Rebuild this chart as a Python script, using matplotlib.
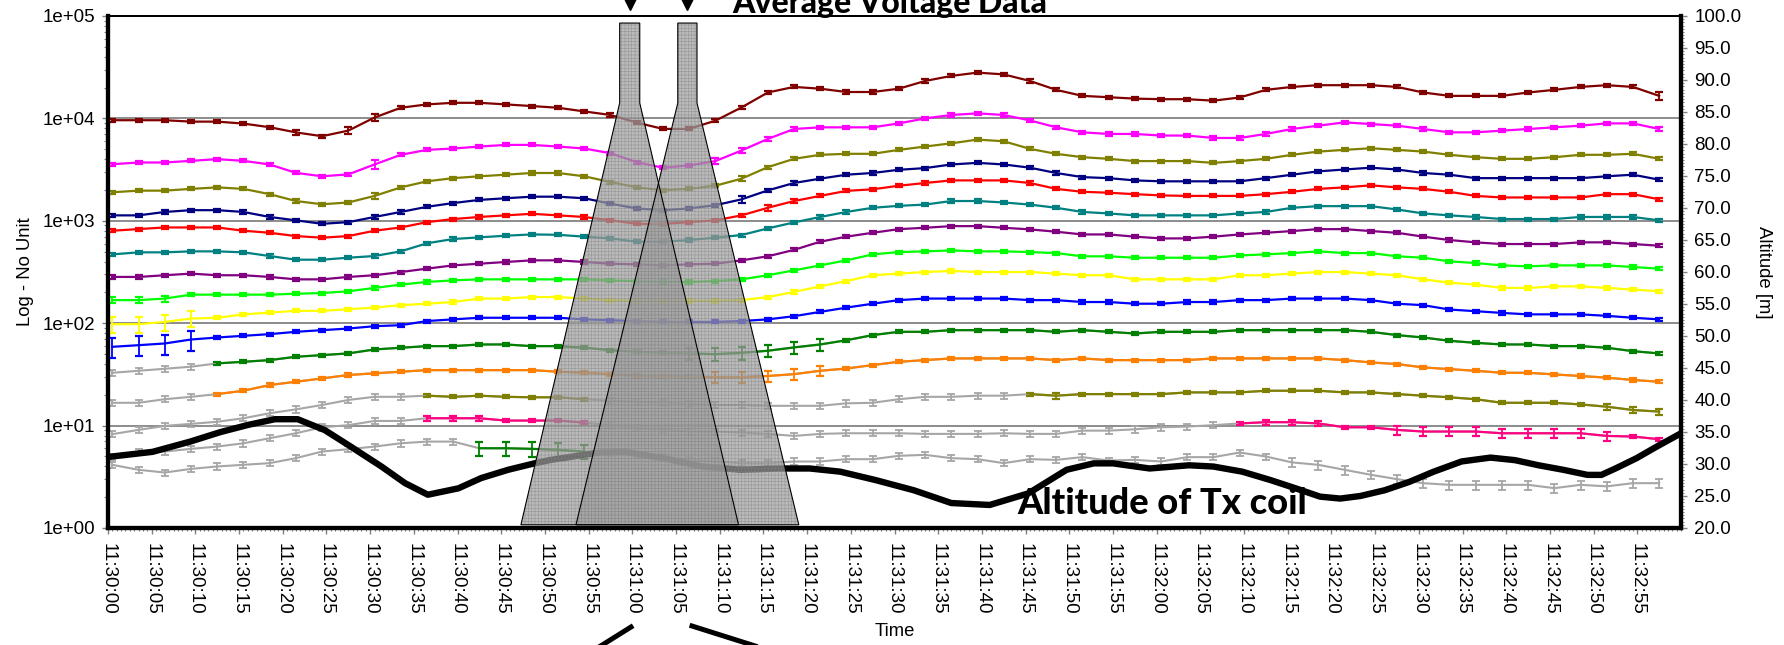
import numpy as np
import matplotlib.pyplot as plt
import matplotlib.transforms as mtransforms
from matplotlib.lines import Line2D
from matplotlib.patches import Polygon
from matplotlib.ticker import FixedLocator, MultipleLocator, FuncFormatter, LogLocator, NullFormatter

plt.rcParams['font.family'] = ['Liberation Sans', 'DejaVu Sans']
plt.rcParams['hatch.linewidth'] = 0.5

# one reading every 3 s, seconds after 11:30:00
t = np.arange(60) * 3 + 0.5

maroon = [9600, 9600, 9600, 9300, 9300, 8900, 8200, 7300, 6700, 7600,
          10200, 12700, 13700, 14200, 14200, 13700, 13200, 12700, 11700, 10800,
          9100, 7900, 7900, 9500, 12800, 17900, 20300, 19500, 18100, 18100,
          19500, 23200, 26000, 28000, 26900, 23200, 19000, 16600, 16100, 15600,
          15400, 15400, 14900, 16000, 19000, 20300, 21100, 21100, 21100, 20300,
          17900, 16600, 16600, 16600, 17900, 19000, 20300, 21100, 20300, 16600]
magenta = [3570, 3710, 3710, 3850, 4000, 3850, 3550, 2940, 2720, 2840,
           3550, 4410, 4930, 5080, 5310, 5510, 5510, 5310, 5080, 4570,
           3740, 3300, 3470, 3830, 4860, 6300, 7880, 8180, 8180, 8180,
           8940, 10000, 10800, 11200, 10800, 9560, 8180, 7310, 7050, 7050,
           6800, 6800, 6440, 6440, 7050, 7880, 8490, 9150, 8810, 8490,
           7880, 7310, 7310, 7590, 7880, 8180, 8490, 8940, 8940, 7880]
olive = [1900, 1970, 1970, 2050, 2120, 2050, 1820, 1560, 1450, 1510,
         1750, 2120, 2430, 2610, 2720, 2820, 2930, 2930, 2720, 2390,
         2120, 1990, 2050, 2200, 2580, 3340, 4030, 4410, 4510, 4510,
         4930, 5310, 5710, 6210, 5980, 5040, 4510, 4180, 4030, 3830,
         3830, 3830, 3680, 3830, 4030, 4410, 4740, 4930, 5110, 4930,
         4740, 4410, 4180, 4030, 4030, 4180, 4410, 4410, 4510, 4030]
navy = [1130, 1130, 1220, 1270, 1270, 1220, 1090, 1010, 935, 970,
        1090, 1220, 1370, 1490, 1600, 1660, 1720, 1720, 1660, 1470,
        1320, 1270, 1320, 1420, 1620, 1980, 2340, 2580, 2820, 2930,
        3150, 3270, 3550, 3680, 3550, 3300, 2930, 2670, 2610, 2480,
        2430, 2430, 2430, 2430, 2610, 2820, 3040, 3170, 3300, 3170,
        2930, 2820, 2610, 2610, 2610, 2610, 2610, 2720, 2820, 2520]
red = [800, 830, 861, 861, 861, 800, 764, 709, 684, 709,
       800, 861, 970, 1040, 1090, 1130, 1170, 1130, 1090, 1010,
       935, 932, 970, 1010, 1130, 1340, 1560, 1750, 1960, 2030,
       2200, 2340, 2480, 2480, 2480, 2340, 2050, 1920, 1880, 1820,
       1770, 1750, 1750, 1750, 1820, 1920, 2050, 2120, 2220, 2120,
       2050, 1920, 1750, 1690, 1690, 1690, 1690, 1820, 1820, 1620]
teal = [470, 492, 492, 503, 503, 492, 453, 417, 417, 436,
        453, 503, 603, 664, 689, 715, 736, 730, 700, 673,
        625, 625, 649, 684, 726, 843, 964, 1090, 1220, 1340,
        1400, 1440, 1560, 1560, 1510, 1440, 1340, 1220, 1180, 1130,
        1130, 1130, 1130, 1180, 1220, 1340, 1390, 1390, 1390, 1290,
        1180, 1130, 1090, 1040, 1040, 1040, 1090, 1090, 1090, 1010]
purple = [283, 283, 294, 305, 294, 294, 283, 268, 268, 283,
          294, 316, 341, 367, 381, 396, 411, 411, 396, 381,
          376, 367, 376, 381, 411, 450, 520, 625, 700, 764,
          829, 855, 887, 887, 855, 824, 782, 736, 736, 700,
          673, 673, 700, 736, 764, 794, 829, 829, 794, 764,
          700, 649, 616, 593, 593, 593, 616, 616, 593, 571]
lime = [168, 168, 174, 190, 190, 190, 190, 194, 197, 205,
        221, 238, 253, 262, 268, 268, 268, 268, 268, 262,
        258, 253, 253, 258, 268, 294, 328, 367, 411, 470,
        495, 503, 514, 503, 503, 495, 484, 450, 450, 436,
        436, 436, 436, 459, 470, 484, 503, 484, 484, 450,
        436, 402, 387, 367, 359, 367, 367, 367, 354, 341]
yellow = [97.8, 97.8, 103, 111, 113, 122, 127, 132, 132, 137,
          142, 150, 155, 161, 174, 174, 180, 180, 174, 168,
          165, 165, 165, 165, 168, 180, 202, 229, 258, 294,
          305, 316, 324, 316, 316, 316, 305, 294, 294, 268,
          268, 268, 268, 294, 294, 305, 316, 316, 305, 294,
          268, 249, 238, 221, 221, 229, 229, 221, 213, 205]
blue = [58.8, 61, 63.4, 69.3, 72.5, 75.3, 78.2, 82.4, 85.5, 88.7,
        93.5, 95.6, 105, 109, 113, 113, 113, 113, 109, 107,
        105, 103, 103, 103, 105, 109, 117, 129, 142, 155,
        168, 174, 174, 174, 174, 168, 168, 161, 161, 155,
        155, 161, 161, 168, 168, 174, 174, 174, 168, 155,
        150, 136, 131, 126, 122, 122, 122, 118, 113, 109]
green = [32.8, 34.3, 35.9, 37.6, 40.5, 42.0, 43.6, 47.0, 48.8, 50.7,
         55.4, 57.6, 59.7, 59.7, 62.0, 62.0, 59.7, 59.7, 57.6, 54.6,
         52.6, 51.4, 50.7, 49.9, 51.4, 53.8, 58.0, 62.0, 68.2, 76.5,
         82.4, 82.4, 85.5, 85.5, 85.5, 85.5, 82.4, 85.5, 82.4, 79.3,
         82.4, 82.4, 82.4, 85.5, 85.5, 85.5, 85.5, 85.5, 82.4, 76.5,
         72.5, 67.3, 64.3, 62.0, 62.0, 59.7, 59.7, 57.6, 53.3, 50.7]
orange = [16.7, 16.7, 18.1, 19.1, 20.3, 21.9, 24.9, 26.8, 28.9, 31.2,
          32.4, 33.6, 34.8, 34.8, 34.8, 34.8, 34.8, 33.6, 32.8, 31.8,
          30.5, 30.0, 30.0, 29.6, 29.6, 30.5, 31.8, 34.3, 36.1, 39.0,
          42.0, 43.6, 45.3, 45.3, 45.3, 45.3, 43.6, 45.3, 43.6, 43.6,
          43.6, 43.6, 45.3, 45.3, 45.3, 45.3, 45.3, 43.6, 41.4, 39.9,
          37.0, 35.6, 34.3, 32.8, 32.8, 31.6, 30.5, 29.4, 27.9, 26.8]
olive2 = [8.25, 9.08, 9.93, 10.4, 10.9, 11.8, 13.2, 14.4, 15.9, 17.8,
          19.1, 19.1, 19.6, 19.1, 19.6, 19.1, 18.9, 18.9, 18.1, 17.5,
          17.1, 16.7, 16.3, 15.9, 15.9, 15.6, 15.6, 15.6, 16.5, 16.7,
          18.1, 19.1, 19.1, 19.6, 19.6, 20.3, 19.6, 20.3, 20.3, 20.3,
          20.3, 21.1, 21.1, 21.1, 21.9, 21.9, 21.9, 21.1, 21.1, 20.3,
          19.6, 18.9, 18.1, 16.7, 16.7, 16.7, 16.1, 15.3, 14.2, 13.7]
pink = [4.99, 5.50, 5.58, 5.93, 6.24, 6.72, 7.53, 8.42, 9.63, 10.1,
        11.1, 11.1, 11.8, 11.8, 11.8, 11.2, 11.2, 11.2, 10.7, 10.1,
        9.42, 9.08, 8.75, 8.75, 8.55, 8.30, 7.93, 8.30, 8.42, 8.42,
        8.42, 8.30, 8.30, 8.30, 8.42, 8.30, 8.30, 8.93, 8.93, 9.20,
        9.63, 9.78, 10.1, 10.5, 10.8, 10.8, 10.5, 9.63, 9.63, 9.08,
        8.75, 8.75, 8.75, 8.42, 8.42, 8.42, 8.42, 7.93, 7.82, 7.36]
green2 = [4.14, 3.70, 3.48, 3.78, 3.99, 4.14, 4.30, 4.81, 5.58, 5.88,
          6.24, 6.72, 6.98, 6.98, 6.01, 6.01, 5.93, 5.80, 5.58, 5.38,
          5.18, 4.99, 4.63, 4.46, 4.30, 4.30, 4.46, 4.46, 4.70, 4.70,
          5.07, 5.18, 4.81, 4.70, 4.30, 4.70, 4.63, 4.92, 4.56, 4.63,
          4.46, 4.92, 4.92, 5.46, 4.99, 4.37, 4.14, 3.70, 3.31, 3.00,
          2.74, 2.64, 2.64, 2.64, 2.64, 2.45, 2.64, 2.55, 2.74, 2.74]

# altitude of the Tx coil [m]
alt_t = [0.0, 5.1, 9.4, 12.9, 16.0, 19.1, 21.7, 24.8, 27.8, 31.3, 34.0, 36.6,
         40.1, 42.7, 45.8, 48.8, 50.5, 56.2, 59.2, 63.6, 68.0, 72.4, 76.8, 80.3,
         83.8, 87.8, 92.2, 96.5, 100.9, 105.3, 109.7, 112.8, 115.0, 117.6, 119.2,
         123.7, 126.5, 129.8, 133.0, 135.9, 138.7, 141.0, 143.3, 146.1, 148.9,
         151.7, 154.9, 158.2, 161.0, 163.7, 166.5, 169.3, 170.9, 172.5, 174.9,
         177.2, 180.0]
alt = [31.1, 31.9, 33.5, 35.0, 36.1, 37.0, 37.0, 35.3, 32.7, 29.6, 27.0, 25.2,
       26.2, 27.8, 29.1, 30.1, 30.6, 31.8, 31.9, 30.9, 29.6, 29.1, 29.3, 29.3,
       28.8, 27.5, 25.9, 23.9, 23.6, 25.4, 29.1, 30.1, 30.1, 29.6, 29.3,
       29.8, 29.6, 28.8, 27.5, 26.2, 24.9, 24.6, 25.0, 25.9, 27.2,
       28.8, 30.4, 31.0, 30.6, 29.8, 29.1, 28.3, 28.3, 29.3, 30.9,
       32.7, 34.8]

# the two grey beams (seconds / metres on the right axis)
beam_centre = [59.7, 66.3]
beam_neck = [1.15, 1.1]
beam_foot = [12.45, 12.75]
beam_top, beam_mid, beam_base = 98.9, 86.4, 20.5

# channel: values, colour, coloured index ranges, rel. error, larger errors
channels = [
    (maroon, '#800000', [(0, 59)], 0.035, {(7, 7): 0.06, (9, 10): 0.08, (59, 59): 0.08}),
    (magenta, '#ff00ff', [(0, 59)], 0.035, {(10, 10): 0.1, (23, 24): 0.06}),
    (olive, '#808000', [(0, 59)], 0.035, {(10, 10): 0.07, (24, 24): 0.06}),
    (navy, '#000080', [(0, 59)], 0.035, {(24, 24): 0.07}),
    (red, '#ff0000', [(0, 59)], 0.035, {(25, 25): 0.07}),
    (teal, '#008080', [(0, 59)], 0.035, {}),
    (purple, '#800080', [(0, 59)], 0.035, {}),
    (lime, '#00ff00', [(0, 59)], 0.035, {(0, 2): 0.07}),
    (yellow, '#ffff00', [(0, 59)], 0.035, {(0, 3): 0.18}),
    (blue, '#0000ff', [(0, 59)], 0.035, {(0, 3): 0.22}),
    (green, '#008000', [(4, 59)], 0.035, {(22, 27): 0.14}),
    (orange, '#ff8000', [(4, 59)], 0.035, {(23, 27): 0.12}),
    (olive2, '#808000', [(12, 18), (35, 59)], 0.035, {(36, 36): 0.07, (57, 59): 0.07}),
    (pink, '#ff0080', [(12, 18), (43, 59)], 0.035, {(12, 14): 0.06, (44, 46): 0.06, (49, 57): 0.1}),
    (green2, '#008000', [(14, 18)], 0.035, {(14, 18): 0.16, (45, 59): 0.1}),
]

GREY = '#a6a6a6'
W, H = 1784, 645
BOLD = ['Lato', 'DejaVu Sans']

fig = plt.figure(figsize=(W / 100, H / 100), dpi=100)
ax = fig.add_axes([108 / W, 1 - 528 / H, (1681 - 108) / W, (528 - 16) / H])

for vals, col, spans, err, extra in channels:
    v = np.array(vals, float)
    rel = np.full(len(v), err)
    for (a, b), r in extra.items():
        rel[a:b + 1] = r
    coloured = np.zeros(len(v), bool)
    for a, b in spans:
        coloured[a:b + 1] = True
    if (~coloured).any():
        g = ~coloured
        ax.plot(t, v, color=GREY, lw=1.5, zorder=2)
        ax.errorbar(t[g], v[g], yerr=v[g] * np.maximum(rel[g], 0.07), fmt='none',
                    ecolor=GREY, elinewidth=1.3, capsize=3.2, capthick=1.3, zorder=2)
    for a, b in spans:
        s = slice(a, b + 1)
        ax.errorbar(t[s], v[s], yerr=v[s] * rel[s], color=col, lw=1.6,
                    elinewidth=1.3, capsize=3.2, capthick=1.6, zorder=3)

ax.set_yscale('log')
ax.set_ylim(1, 1e5)
ax.set_xlim(0, 180)
ax.yaxis.set_major_locator(FixedLocator([1, 10, 100, 1e3, 1e4, 1e5]))
ax.yaxis.set_major_formatter(FuncFormatter(lambda v, p: f'{v:.0e}'))
ax.yaxis.set_minor_locator(LogLocator(base=10, subs=np.arange(2, 10)))
ax.yaxis.set_minor_formatter(NullFormatter())
for lv in [10, 100, 1e3, 1e4]:
    ax.axhline(lv, color='#8c8c8c', lw=1.4, zorder=1)

ax.set_xticks(np.arange(0, 180, 5))
ax.xaxis.set_major_formatter(
    FuncFormatter(lambda s, p: f'11:{30 + int(round(s)) // 60:02d}:{int(round(s)) % 60:02d}'))
ax.xaxis.set_minor_locator(MultipleLocator(0.5))
ax.tick_params(axis='x', which='major', length=4, width=1, color='#808080',
               labelsize=13.5, labelrotation=270, pad=7)
ax.tick_params(axis='x', which='minor', length=2.5, width=0.8, color='#808080')
ax.tick_params(axis='y', which='major', length=4.5, width=1, color='#808080',
               labelsize=13.5, pad=5)
ax.tick_params(axis='y', which='minor', length=3, width=0.8, color='#808080')
ax.set_xlabel('Time', fontsize=13.3, labelpad=6)
ax.set_ylabel('Log - No Unit', fontsize=13.3, labelpad=6)

ax2 = ax.twinx()
ax2.plot(alt_t, alt, color='black', lw=4.6, solid_joinstyle='round', zorder=3)
ax2.set_ylim(20, 100)
ax2.yaxis.set_major_locator(MultipleLocator(5))
ax2.yaxis.set_minor_locator(MultipleLocator(0.5))
ax2.yaxis.set_major_formatter(FuncFormatter(lambda v, p: f'{v:.1f}'))
ax2.tick_params(axis='y', which='major', length=4.5, width=1, color='#808080',
                labelsize=13.5, pad=5)
ax2.tick_params(axis='y', which='minor', length=2.5, width=0.8, color='#808080')
ax2.set_ylabel('Altitude [m]', fontsize=13.3, rotation=270, va='bottom', labelpad=10)

for c, n, f in zip(beam_centre, beam_neck, beam_foot):
    pts = [(c - n, beam_top), (c + n, beam_top), (c + n, beam_mid),
           (c + f, beam_base), (c - f, beam_base), (c - n, beam_mid)]
    ax2.add_patch(Polygon(pts, closed=True, facecolor=(0.62, 0.62, 0.62, 0.7),
                          edgecolor=(0.5, 0.5, 0.5, 0.55), hatch='+++++', lw=0, zorder=4))
    ax2.add_patch(Polygon(pts, closed=True, fill=False, edgecolor='black', lw=0.8, zorder=5))

# markers above the beams
top_tr = mtransforms.blended_transform_factory(ax2.transData, ax2.transAxes)
ax2.plot(beam_centre, [1.028] * 2, ls='none', marker='v', ms=11, color='black',
         transform=top_tr, clip_on=False, zorder=6)

for a in (ax, ax2):
    for side in ['left', 'bottom', 'right']:
        a.spines[side].set_linewidth(3)
    a.spines['top'].set_linewidth(1.3)

ax2.text(104.0, 22.2, 'Altitude of Tx coil', fontsize=26, fontweight='black',
         family=BOLD, va='baseline', ha='left', zorder=7)
fig.text(890 / W, 1 - 13 / H, 'Average Voltage Data', fontsize=23, fontweight='black',
         family=BOLD, va='baseline', ha='center')

# pointer strokes below the time axis
for (x0, y0), (x1, y1) in [((631, 627), (575, 662)), ((692, 626), (790, 657))]:
    fig.add_artist(Line2D([x0 / W, x1 / W], [1 - y0 / H, 1 - y1 / H], color='black',
                          lw=3.6, transform=fig.transFigure))

fig.savefig('out.png', dpi=100)
